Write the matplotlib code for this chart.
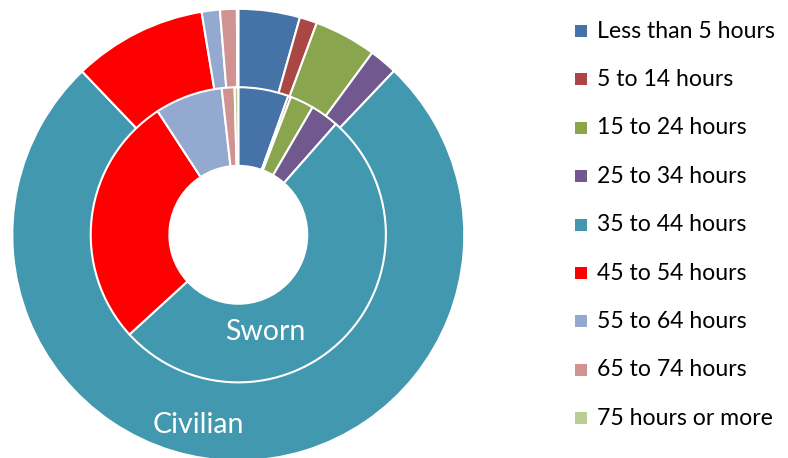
import matplotlib
matplotlib.use("Agg")
import matplotlib.pyplot as plt
from matplotlib.patches import Rectangle

categories = ["Less than 5 hours", "5 to 14 hours", "15 to 24 hours", "25 to 34 hours",
              "35 to 44 hours", "45 to 54 hours", "55 to 64 hours", "65 to 74 hours",
              "75 hours or more"]
civilian = [4.4, 1.25, 4.45, 2.0, 75.8, 9.55, 1.3, 1.2, 0.1]
sworn = [5.5, 0.3, 2.6, 3.1, 51.7, 27.6, 7.4, 1.4, 0.4]
colors = ["#4572A7", "#AA4643", "#89A54E", "#71588F", "#4198AF",
          "#FF0000", "#93A9CF", "#D19392", "#B9CD96"]

plt.rcParams['font.family'] = ['Lato', 'DejaVu Sans']

W, H = 788, 458
fig = plt.figure(figsize=(W / 100, H / 100), dpi=100)
cx, cy, R = 238.3, 234.8, 226
ax = fig.add_axes([(cx - R) / W, (H - cy - R) / H, 2 * R / W, 2 * R / H])
ax.set_xlim(-1, 1)
ax.set_ylim(-1, 1)
ax.axis('off')

wp = dict(edgecolor='white', linewidth=1.5)
ax.pie(civilian, radius=1.0, colors=colors, startangle=90, counterclock=False,
       wedgeprops=dict(width=0.35, **wp))
ax.pie(sworn, radius=0.653, colors=colors, startangle=90, counterclock=False,
       wedgeprops=dict(width=0.348, **wp))
ax.set_xlim(-1, 1)
ax.set_ylim(-1, 1)

ax.text(0.118, -0.43, "Sworn", color='white', fontsize=20.5, ha='center', va='center')
ax.text(-0.178, -0.84, "Civilian", color='white', fontsize=20.5, ha='center', va='center')

y0, step = 31, 48.4
for i, (lab, c) in enumerate(zip(categories, colors)):
    y = y0 + i * step
    fig.patches.append(Rectangle((575 / W, 1 - (y + 6) / H), 12 / W, 12 / H,
                                 transform=fig.transFigure, facecolor=c, edgecolor='none'))
    fig.text(597 / W, 1 - y / H, lab, fontsize=16.6, ha='left', va='center')

fig.savefig("out.png", dpi=100)
